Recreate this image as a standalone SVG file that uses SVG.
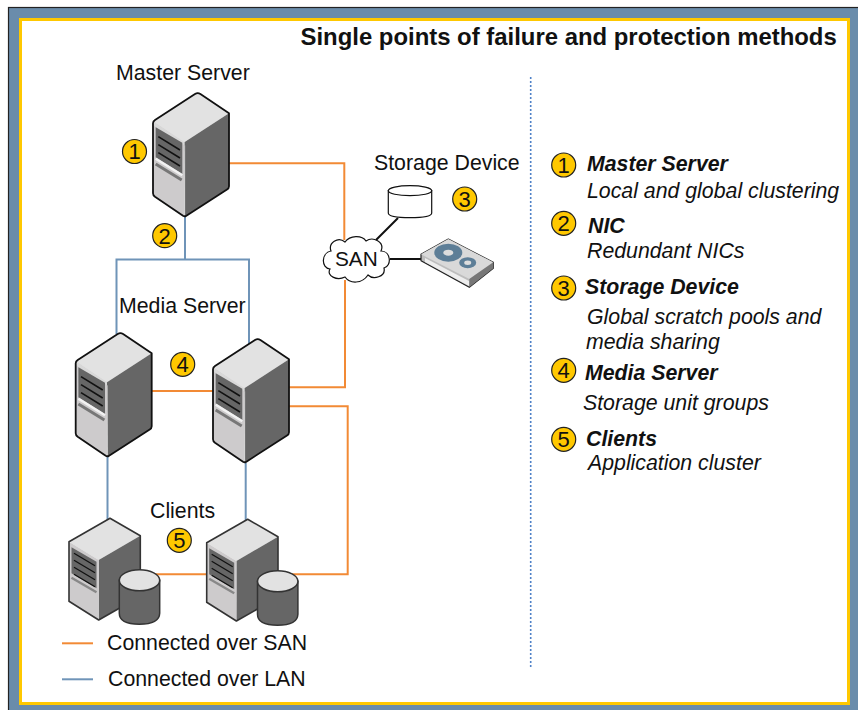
<svg xmlns="http://www.w3.org/2000/svg" xmlns:xlink="http://www.w3.org/1999/xlink" width="858" height="710" viewBox="0 0 858 710">
<style>
text{font-family:"Liberation Sans",Arial,sans-serif;fill:#111}
.lbl{font-size:21.300px}
.h{font-size:21.300px;font-weight:bold;font-style:italic}
.d{font-size:21.300px;font-style:italic}
.n{font-size:22px;text-anchor:middle}
.san{fill:none;stroke:#f28a35;stroke-width:2}
.lan{fill:none;stroke:#6f94b8;stroke-width:2}
.blk{fill:none;stroke:#111;stroke-width:2}
.badge{fill:#ffc800;stroke:#222;stroke-width:1.2}
</style>
<defs>
<g id="srv">
<path d="M0,29L44.7,0L76,21L31.3,50Z" fill="#e2e2e2"/>
<path d="M31.3,50L76,21V96L31.7,124.4Z" fill="#666"/>
<path d="M0,29L31.3,50L31.7,124.4L0,102.7Z" fill="#cdcbcc"/>
<path d="M0,29L31.3,50V53L0,33Z" fill="#d8d8d8"/>
<path d="M2.7,35L29.3,50.5V81.7L2.7,65Z" fill="#666"/>
<path d="M5.3,44.3L27,57.7M5.3,52.3L27,65.7M5.3,60.3L27,73.7" stroke="#111" stroke-width="1.6" fill="none"/>
<path d="M2.7,66.5L29.3,83" stroke="#f2f2f2" stroke-width="2.5" fill="none"/>
<path d="M2.7,71.7L28.7,87.7" stroke="#777" stroke-width="3" fill="none"/>
<path d="M31.7,53V124" stroke="#e0e0e0" stroke-width="1" fill="none" opacity=".6"/>
<path d="M0,31Q0,29 2,27.7L42,1.7Q44.7,0 47.4,1.7L76,21V94Q76,96 74,97.3L33,123.6Q31.7,124.4 30,123.4L2,104.5Q0,103 0,101Z" fill="none" stroke="#111" stroke-width="1.8" stroke-linejoin="round"/>
</g>
<g id="cl">
<path d="M0,23.4L41,0L71.3,17.4L29.7,41.7Z" fill="#e2e2e2"/>
<path d="M29.7,41.7L71.3,17.4V78L29.7,101.7Z" fill="#666"/>
<path d="M0,23.4L29.7,41.7V101.7L0,83Z" fill="#cdcbcc"/>
<path d="M2.5,29L27.5,43.5V70L2.5,55Z" fill="#666"/>
<path d="M5,35L26,47.5M5,42L26,54.5M5,49L26,61.5M5,56L26,68.5" stroke="#111" stroke-width="1.3" fill="none"/>
<path d="M2.5,59.5L27.5,74" stroke="#888" stroke-width="2.4" fill="none"/>
<path d="M0,23.4L41,0L71.3,17.4V78L29.7,101.7L0,83Z" fill="none" stroke="#333" stroke-width="1.6" stroke-linejoin="round"/>
</g>
<g id="cyl">
<path d="M0,11V44Q0,55 20,55T40.4,44V11Z" fill="#666" stroke="#333" stroke-width="1.5"/>
<ellipse cx="20.2" cy="11" rx="20.2" ry="10.5" fill="#e2e2e2" stroke="#333" stroke-width="1.5"/>
</g>
</defs>

<rect x="8.500" y="7.500" width="860" height="720" fill="#6a8cab" stroke="#222" stroke-width="1.200"/>
<rect x="20.500" y="19.500" width="828" height="684" fill="#fff" stroke="#ffc800" stroke-width="3"/>

<g id="connectors">
<path class="san" d="M229,163.300H344.300V240"/>
<path class="san" d="M345,280V387.300H289"/>
<path class="san" d="M289,406.300H347.700V574.300H290"/>
<path class="san" d="M151.700,391H213"/>
<path class="san" d="M155,574.300H207"/>
<path class="lan" d="M185,216V259.500"/>
<path class="lan" d="M116.500,334V259.500H249V346"/>
<path class="lan" d="M107.500,456V520"/>
<path class="lan" d="M245.700,463V521"/>
<path class="blk" d="M376,240L398,218M390,259H422"/>
</g>

<text x="300.500" y="45" style="font-size:23.900px;font-weight:bold">Single points of failure and protection methods</text>
<path d="M530.700,77V667" stroke="#4f81c8" stroke-width="1.600" stroke-dasharray="2 2" fill="none"/>

<g id="master-server"><use xlink:href="#srv" href="#srv" transform="translate(153,92.300)"/>
<text class="lbl" x="116" y="80">Master Server</text></g>

<g id="storage-device"><text class="lbl" x="374" y="170">Storage Device</text>
<path d="M388.300,190.700V213Q388.300,217.700 410,217.700T431.700,213V190.700Z" fill="#fff" stroke="#111" stroke-width="1.200"/>
<ellipse cx="410" cy="190.700" rx="21.700" ry="5" fill="#fff" stroke="#111" stroke-width="1.200"/>
</g>

<g id="san"><path d="M331,251C328,243 338,236 345,242C350,235 362,235 366,241C373,236 385,242 381,251C391,251 392,266 384,268C386,277 373,280 368,275C362,284 350,284 345,277C337,281 326,276 330,269C321,268 321,253 331,251Z" fill="#fff" stroke="#111" stroke-width="1.200"/>
<text x="335" y="266" style="font-size:20.800px">SAN</text></g>

<g id="tape-drive">
<path d="M421,254.300L448.300,239L493.300,262.300V268.300L469.300,287.300L421,260.700Z" fill="#bdbdbd" stroke="#222" stroke-width="1.200" stroke-linejoin="round"/>
<path d="M421,254.300L448.300,239L493.300,262.300L469.300,279Z" fill="#d9d9d9"/>
<path d="M425,258L469,281V286L425,262Z" fill="#eee"/>
<path d="M469.300,279L493.300,262.300V268.300L469.300,287.300Z" fill="#777"/>
<ellipse cx="448.300" cy="252.700" rx="14" ry="9" fill="#5d7e97"/>
<ellipse cx="448.300" cy="252.700" rx="5" ry="3" fill="#ddd"/>
<ellipse cx="467.700" cy="262.700" rx="8.500" ry="5.500" fill="#5d7e97"/>
<ellipse cx="467.700" cy="262.700" rx="3.500" ry="2.200" fill="#ddd"/>
</g>

<g id="media-server-1"><use xlink:href="#srv" href="#srv" transform="translate(75.700,332.300)"/></g>
<g id="media-server-2"><use xlink:href="#srv" href="#srv" transform="translate(213,338.300)"/>
<text class="lbl" x="119" y="313">Media Server</text></g>

<g id="client-1"><use xlink:href="#cl" href="#cl" transform="translate(69,518.300)"/><use xlink:href="#cyl" href="#cyl" transform="translate(119.300,569.300)"/></g>
<g id="client-2"><use xlink:href="#cl" href="#cl" transform="translate(206.700,519.300)"/><use xlink:href="#cyl" href="#cyl" transform="translate(257.500,570.300)"/>
<text class="lbl" x="150" y="517.500">Clients</text></g>

<g id="badges">
<circle class="badge" cx="134.500" cy="151.500" r="12"/><text class="n" x="134.500" y="159">1</text>
<circle class="badge" cx="164.700" cy="235.700" r="12"/><text class="n" x="164.700" y="243.500">2</text>
<circle class="badge" cx="464.700" cy="199" r="12"/><text class="n" x="464.700" y="206.500">3</text>
<circle class="badge" cx="182.700" cy="364.300" r="12"/><text class="n" x="182.700" y="372">4</text>
<circle class="badge" cx="179.300" cy="540.300" r="12"/><text class="n" x="179.300" y="548">5</text>
</g>

<g id="legend">
<path class="san" d="M62,643.300H93"/><text class="lbl" x="107" y="650">Connected over SAN</text>
<path class="lan" d="M62,679.300H93"/><text class="lbl" x="108" y="686">Connected over LAN</text>
</g>

<g id="key-1"><circle class="badge" cx="563.700" cy="165" r="12"/><text class="n" x="563.700" y="172.500">1</text>
<text class="h" x="587" y="171">Master Server</text><text class="d" x="587" y="198">Local and global clustering</text></g>
<g id="key-2"><circle class="badge" cx="563.700" cy="223.300" r="12"/><text class="n" x="563.700" y="230.500">2</text>
<text class="h" x="588" y="233">NIC</text><text class="d" x="587" y="257.500">Redundant NICs</text></g>
<g id="key-3"><circle class="badge" cx="563.700" cy="288" r="12"/><text class="n" x="563.700" y="295.500">3</text>
<text class="h" x="585" y="293.500">Storage Device</text><text class="d" x="587" y="324">Global scratch pools and</text><text class="d" x="586" y="348.500">media sharing</text></g>
<g id="key-4"><circle class="badge" cx="563.700" cy="370.300" r="12"/><text class="n" x="563.700" y="378">4</text>
<text class="h" x="585" y="380">Media Server</text><text class="d" x="583" y="410">Storage unit groups</text></g>
<g id="key-5"><circle class="badge" cx="563.700" cy="439.300" r="12"/><text class="n" x="563.700" y="447">5</text>
<text class="h" x="586" y="445.500">Clients</text><text class="d" x="588" y="470">Application cluster</text></g>
</svg>
